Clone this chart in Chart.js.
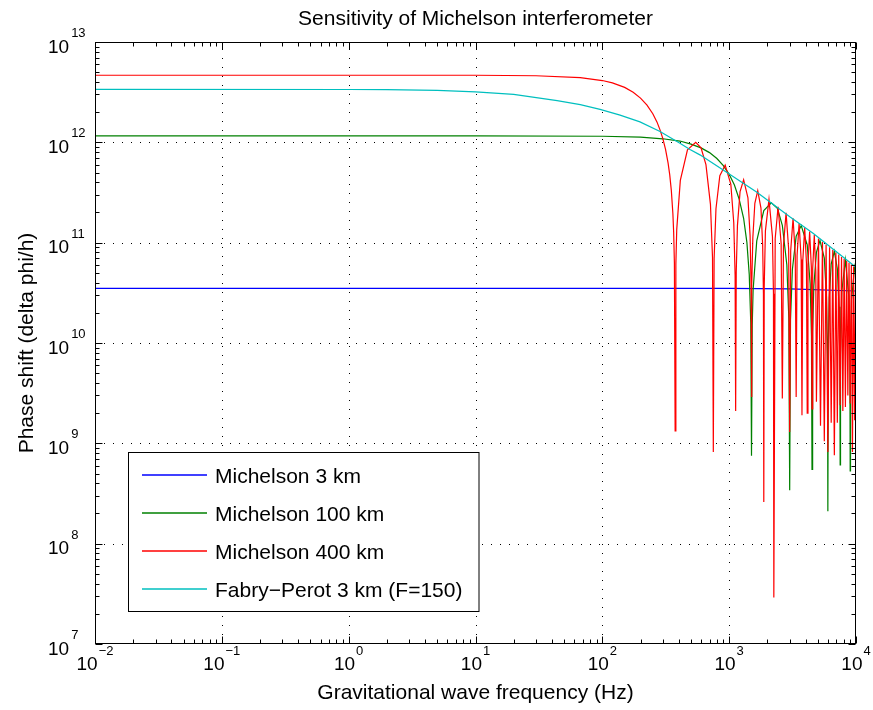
<!DOCTYPE html>
<html>
<head>
<meta charset="utf-8">
<script src="https://cdn.jsdelivr.net/npm/chart.js@4.4.1/dist/chart.umd.min.js"></script>
<style>
html, body { margin: 0; padding: 0; background: #fff; }
</style>
</head>
<body>
<canvas id="sensChart" width="873" height="710"></canvas>
<script>
// values (frequency in Hz, phase shift per strain)
var blueFreq = [0.01, 100, 1000, 3000, 10000];
var blueVal  = [3.5e10, 3.5e10, 3.5e10, 3.46e10, 3.3e10];

var greenFreq = [0.01, 1, 10, 100, 200, 300, 409, 500, 600, 700, 800, 900, 1000, 1100, 1200, 1300, 1380, 1440, 1480, 1500,
  1520, 1545, 1650, 1875, 2150, 2400, 2625, 2850, 2955, 3000,
  3045, 3150, 3375, 3700, 4125, 4350, 4455, 4500,
  4550, 4650, 4875, 5200, 5625, 5850, 5960, 6000,
  6050, 6150, 6375, 6750, 7125, 7350, 7460, 7500,
  7550, 7725, 8250, 8775, 8950, 9000,
  9050, 9225, 9750, 10000];
var greenVal = [1.16e12, 1.16e12, 1.16e12, 1.15e12, 1.126e12, 1.085e12, 1.03e12, 9.6e11, 8.8e11, 7.9e11, 6.9e11, 5.85e11, 4.8e11, 3.75e11, 2.7e11, 1.75e11, 1.0e11, 4.8e10, 1.6e10, 7.5e8,
  1.5e10, 3.4e10, 1.04e11, 2.09e11, 2.5e11, 2.2e11, 1.49e11, 6.0e10, 1.76e10, 3.4e8,
  1.7e10, 5.4e10, 1.16e11, 1.48e11, 9.5e10, 3.9e10, 1.17e10, 5.5e8,
  1.27e10, 3.7e10, 8.0e10, 1.05e11, 7.0e10, 2.9e10, 7.8e9, 2.1e8,
  9.5e9, 2.8e10, 6.1e10, 8.2e10, 5.5e10, 2.3e10, 6.0e9, 6.1e8,
  7.6e9, 3.25e10, 6.7e10, 2.9e10, 6.4e9, 5.3e8,
  6.4e9, 2.7e10, 5.7e10, 4.8e10];

var redFreq = [0.01, 1, 10, 30, 67, 100, 120, 150, 175, 200, 225, 250, 270, 285, 300, 315, 330, 340, 350, 360, 365, 370, 375,
  380, 386, 412, 469, 545, 600, 656, 712, 739, 750,
  761, 787, 844, 930, 1031, 1087, 1114, 1125,
  1137, 1162, 1219, 1300, 1406, 1462, 1488, 1500,
  1512, 1537, 1594, 1680, 1781, 1837, 1863, 1875,
  1890, 1931, 2060, 2194, 2235, 2250,
  2306, 2430, 2569, 2625,
  2680, 2810, 2945, 3000,
  3056, 3190, 3319, 3375,
  3431, 3560, 3694, 3750,
  3806, 3940, 4069, 4125,
  4181, 4310, 4444, 4500,
  4556, 4690, 4819, 4875,
  5060, 5250, 5440, 5625, 5810, 6000, 6190, 6375, 6560, 6750, 6940, 7125, 7310, 7500,
  7690, 7875, 8060, 8250, 8440, 8625, 8810, 9000, 9190, 9375, 9560, 9750, 9940, 10000];
var redVal = [4.66e12, 4.66e12, 4.66e12, 4.61e12, 4.42e12, 4.13e12, 3.91e12, 3.53e12, 3.16e12, 2.76e12, 2.35e12, 1.93e12, 1.59e12, 1.33e12, 1.09e12, 8.5e11, 6.2e11, 4.74e11, 3.3e11, 1.94e11, 1.28e11, 6.3e10, 1.33e9,
  6.1e10, 1.35e11, 4.17e11, 8.4e11, 1.0e12, 8.8e11, 6.0e11, 2.41e11, 7.1e10, 8.2e8,
  6.9e10, 2.18e11, 4.66e11, 5.93e11, 3.81e11, 1.58e11, 4.7e10, 2.1e9,
  5.1e10, 1.48e11, 3.23e11, 4.24e11, 2.8e11, 1.18e11, 3.9e10, 2.9e9,
  3.8e10, 1.12e11, 2.47e11, 3.3e11, 2.21e11, 9.4e10, 3.1e10, 2.6e8,
  3.7e10, 1.31e11, 2.7e11, 1.15e11, 3.1e10, 2.9e7,
  1.10e11, 2.28e11, 9.8e10, 2.8e9,
  9.4e10, 1.98e11, 8.6e10, 1.3e9,
  8.3e10, 1.75e11, 7.6e10, 2.9e9,
  7.4e10, 1.56e11, 6.8e10, 1.9e9,
  6.6e10, 1.41e11, 6.2e10, 2.0e9,
  6.0e10, 1.29e11, 5.7e10, 2.2e9,
  5.5e10, 1.19e11, 5.2e10, 2.6e9,
  1.10e11, 1.5e9, 1.02e11, 1.05e9, 9.6e10, 8.2e8, 9.0e10, 1.6e9, 8.5e10, 7.6e8, 8.0e10, 1.6e9, 7.6e10, 2.4e9,
  7.2e10, 2.1e9, 6.9e10, 2.3e9, 6.6e10, 3.0e9, 6.3e10, 2.5e9, 6.05e10, 8.2e8, 5.8e10, 1.7e9, 5.6e10, 4.8e10];

var cyanFreq = [0.01, 1, 2, 5, 10, 20, 44, 67, 96, 138, 198, 285, 409, 491, 588, 897, 1644, 3006, 4585, 10000];
var cyanVal  = [3.37e12, 3.36e12, 3.35e12, 3.29e12, 3.19e12, 3.01e12, 2.6e12, 2.38e12, 2.13e12, 1.87e12, 1.6e12, 1.28e12, 9.8e11, 8.5e11, 7.5e11, 5.3e11, 3.2e11, 1.81e11, 1.24e11, 5.7e10];

var seriesNames  = ['Michelson 3 km', 'Michelson 100 km', 'Michelson 400 km', 'Fabry\u2212Perot 3 km (F=150)'];
var seriesColors = ['#0000ff', '#008000', '#ff0000', '#00bfbf'];

// decades shown on the axes
var xDecades = [-2, -1, 0, 1, 2, 3, 4];
var yDecades = [7, 8, 9, 10, 11, 12, 13];

var FONT = '"Liberation Sans", Arial, Helvetica, sans-serif';

function pairs(fs, vs) {
  return fs.map(function(f, i) { return {x: f, y: vs[i]}; });
}
function supText(p) {
  return String(p).replace('-', '\u2212');
}

// matlab style box, ticks, dotted grid, 10^n labels and legend
var matlabAxes = {
  id: 'matlabAxes',
  beforeDatasetsDraw: function(chart) {
    var ctx = chart.ctx, a = chart.chartArea, xs = chart.scales.x, ys = chart.scales.y;
    ctx.save();
    ctx.strokeStyle = '#000';
    ctx.lineWidth = 1;
    ctx.setLineDash([1, 8]);
    xDecades.slice(1, -1).forEach(function(p) {
      var px = Math.round(xs.getPixelForValue(Math.pow(10, p))) + 0.5;
      ctx.beginPath(); ctx.moveTo(px, a.bottom); ctx.lineTo(px, a.top); ctx.stroke();
    });
    yDecades.slice(1, -1).forEach(function(p) {
      var py = Math.round(ys.getPixelForValue(Math.pow(10, p))) + 0.5;
      ctx.beginPath(); ctx.moveTo(a.left, py); ctx.lineTo(a.right, py); ctx.stroke();
    });
    ctx.restore();
  },
  afterDatasetsDraw: function(chart) {
    var ctx = chart.ctx, a = chart.chartArea, xs = chart.scales.x, ys = chart.scales.y;
    ctx.save();
    ctx.setLineDash([]);
    ctx.strokeStyle = '#000';
    ctx.lineWidth = 1;
    var L = Math.round(a.left) + 0.5, R = Math.round(a.right) - 0.5;
    var T = Math.round(a.top) + 0.5, B = Math.round(a.bottom) - 0.5;
    ctx.strokeRect(L, T, R - L, B - T);

    ctx.beginPath();
    xDecades.forEach(function(p, i) {
      for (var m = 1; m <= 9; m++) {
        if (m > 1 && i == xDecades.length - 1) break;
        var px = Math.round(xs.getPixelForValue(m * Math.pow(10, p))) + 0.5;
        var len = (m == 1) ? 7 : 4;
        ctx.moveTo(px, B); ctx.lineTo(px, B - len);
        ctx.moveTo(px, T); ctx.lineTo(px, T + len);
      }
    });
    yDecades.forEach(function(p, i) {
      for (var m = 1; m <= 9; m++) {
        if (m > 1 && i == yDecades.length - 1) break;
        var py = Math.round(ys.getPixelForValue(m * Math.pow(10, p))) + 0.5;
        var len = (m == 1) ? 7 : 4;
        ctx.moveTo(L, py); ctx.lineTo(L + len, py);
        ctx.moveTo(R, py); ctx.lineTo(R - len, py);
      }
    });
    ctx.stroke();

    // tick labels
    ctx.fillStyle = '#000';
    ctx.textBaseline = 'alphabetic';
    ctx.textAlign = 'left';
    xDecades.forEach(function(p) {
      var px = xs.getPixelForValue(Math.pow(10, p));
      ctx.font = '19px ' + FONT;
      var w1 = ctx.measureText('10').width;
      ctx.font = '13px ' + FONT;
      var e = supText(p), w2 = ctx.measureText(e).width;
      var x0 = px - (w1 + 1 + w2) / 2;
      ctx.font = '19px ' + FONT;
      ctx.fillText('10', x0, a.bottom + 26);
      ctx.font = '13px ' + FONT;
      ctx.fillText(e, x0 + w1 + 1, a.bottom + 11);
    });
    yDecades.forEach(function(p) {
      var py = ys.getPixelForValue(Math.pow(10, p));
      ctx.font = '19px ' + FONT;
      var w1 = ctx.measureText('10').width;
      ctx.fillText('10', 48, py + 10.5);
      ctx.font = '13px ' + FONT;
      ctx.fillText(supText(p), 48 + w1 + 2, py - 5);
    });

    // legend box
    var bx = 128.5, by = 452.5, bw = 350.5, bh = 159;
    ctx.fillStyle = '#fff';
    ctx.fillRect(bx, by, bw, bh);
    ctx.strokeStyle = '#000';
    ctx.lineWidth = 1;
    ctx.strokeRect(bx, by, bw, bh);
    seriesNames.forEach(function(name, i) {
      var ry = Math.round(475 + i * 38);
      ctx.strokeStyle = seriesColors[i];
      ctx.lineWidth = 1.4;
      ctx.beginPath(); ctx.moveTo(142, ry); ctx.lineTo(207, ry); ctx.stroke();
      ctx.fillStyle = '#000';
      ctx.font = '21px ' + FONT;
      ctx.fillText(name, 215, ry + 8);
    });
    ctx.restore();
  }
};

var ctx = document.getElementById('sensChart');
var sensChart = new Chart(ctx, {
  type: 'line',
  data: {
    datasets: [{
      label: seriesNames[0],
      data: pairs(blueFreq, blueVal),
      borderColor: seriesColors[0],
      order: 4
    }, {
      label: seriesNames[1],
      data: pairs(greenFreq, greenVal),
      borderColor: seriesColors[1],
      order: 3
    }, {
      label: seriesNames[2],
      data: pairs(redFreq, redVal),
      borderColor: seriesColors[2],
      order: 2
    }, {
      label: seriesNames[3],
      data: pairs(cyanFreq, cyanVal),
      borderColor: seriesColors[3],
      order: 1
    }]
  },
  options: {
    responsive: false,
    animation: false,
    devicePixelRatio: 1,
    layout: {
      padding: { left: 0, right: 17, top: 0, bottom: 0 }
    },
    elements: {
      line: { borderWidth: 1.2, tension: 0, fill: false },
      point: { radius: 0, hoverRadius: 0 }
    },
    plugins: {
      legend: { display: false },
      tooltip: { enabled: false },
      title: {
        display: true,
        text: 'Sensitivity of Michelson interferometer',
        color: '#000',
        fullSize: false,
        font: { family: FONT, size: 21, weight: 'normal' },
        padding: { top: 7, bottom: 9.8 }
      }
    },
    scales: {
      x: {
        type: 'logarithmic',
        min: 0.01,
        max: 10000,
        grid: { display: false, drawTicks: false },
        border: { display: false },
        ticks: { display: false },
        title: {
          display: true,
          text: 'Gravitational wave frequency (Hz)',
          color: '#000',
          font: { family: FONT, size: 21 },
          padding: { top: 36.4, bottom: 4.4 }
        }
      },
      y: {
        type: 'logarithmic',
        min: 1e7,
        max: 1e13,
        grid: { display: false, drawTicks: false },
        border: { display: false },
        ticks: { display: false },
        title: {
          display: true,
          text: 'Phase shift (delta phi/h)',
          color: '#000',
          font: { family: FONT, size: 21 },
          padding: { top: 14.4, bottom: 55.4 }
        }
      }
    }
  },
  plugins: [matlabAxes]
});
</script>
</body>
</html>
